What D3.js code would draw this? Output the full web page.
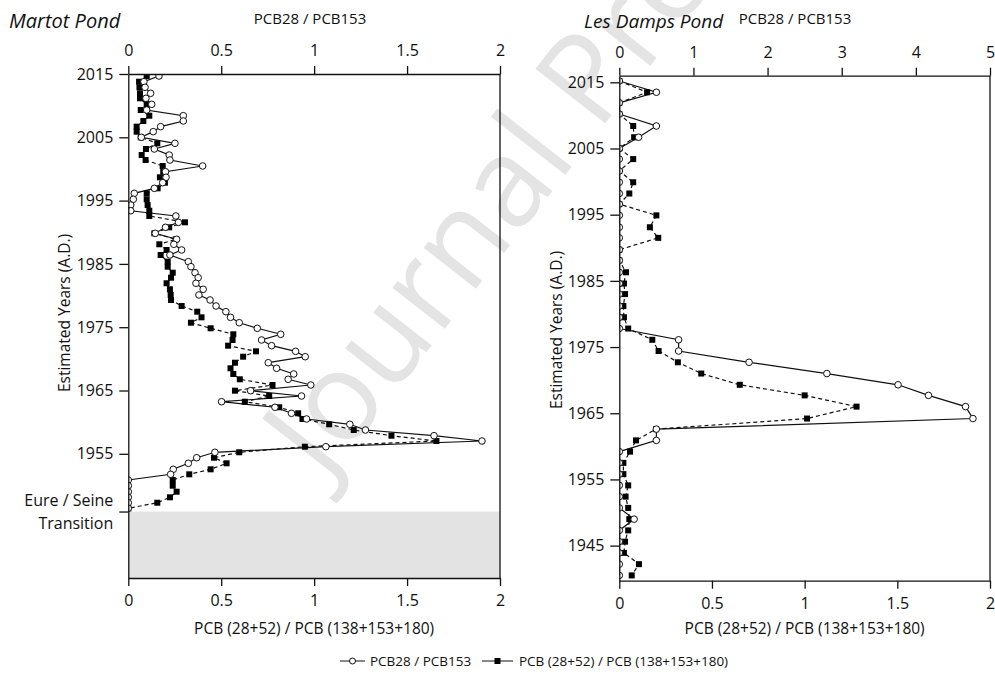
<!DOCTYPE html>
<html>
<head>
<meta charset="utf-8">
<script src="https://cdn.jsdelivr.net/npm/d3@7"></script>
<style>
  html, body { margin: 0; padding: 0; background: #fff; }
  svg { display: block; font-family: "Open Sans", "Noto Sans", sans-serif; }
  .axis text { font-size: 16px; fill: #111; font-family: "Open Sans", sans-serif; }
  .axis path, .axis line { stroke: #111; stroke-width: 1.3px; }
</style>
</head>
<body>
<svg id="chart" width="995" height="679"></svg>
<script>
// ---------------- DATA ----------------
// Martot Pond (both ratios on 0–2 scales)
const martotYears = [2014.68, 2013.78, 2012.90, 2011.95, 2011.16, 2010.21, 2009.31, 2008.41, 2007.58, 2006.68,
  2005.89, 2005.00, 2004.05, 2003.15, 2002.20, 2001.41, 2000.47, 1999.57, 1998.68, 1997.83,
  1996.94, 1996.15, 1995.21, 1994.30, 1993.40, 1992.57, 1991.57, 1990.78, 1989.83, 1988.89,
  1988.10, 1987.20, 1986.41, 1985.35, 1984.56, 1983.61, 1982.82, 1981.94, 1980.99, 1980.09,
  1979.30, 1978.35, 1977.45, 1976.56, 1975.71, 1974.83, 1973.88, 1972.98, 1972.08, 1971.19,
  1970.34, 1969.39, 1968.51, 1967.61, 1966.77, 1965.87, 1964.97, 1964.13, 1963.23, 1962.35,
  1961.40, 1960.50, 1959.66, 1958.76, 1957.86, 1957.02, 1956.12, 1955.24, 1954.38, 1953.50,
  1952.55, 1951.76, 1950.86, 1949.96, 1949.01, 1948.13, 1947.27, 1946.39];
const martotPCB28_153 = [0.165, 0.084, 0.09, 0.12, 0.095, 0.126, 0.099, 0.296, 0.296, 0.174,
  0.134, 0.07, 0.251, 0.14, 0.22, 0.224, 0.40, 0.2, 0.203, 0.185,
  0.14, 0.032, 0.027, 0.013, 0.013, 0.256, 0.27, 0.2, 0.145, 0.26,
  0.245, 0.287, 0.224, 0.323, 0.337, 0.359, 0.376, 0.364, 0.403, 0.38,
  0.44, 0.472, 0.525, 0.55, 0.597, 0.694, 0.82, 0.717, 0.771, 0.9,
  0.952, 0.753, 0.798, 0.89, 0.86, 0.982, 0.658, 0.932, 0.502, 0.789,
  0.878, 0.959, 1.192, 1.276, 1.645, 1.903, 1.063, 0.466, 0.368, 0.323,
  0.242, 0.228, 0, 0, 0, 0, 0, 0];
const martotPCBsum = [0.099, 0.058, 0.06, 0.063, 0.063, 0.099, 0.067, 0.113, 0.081, 0.045,
  0.045, 0.067, 0.156, 0.095, 0.072, 0.093, 0.185, 0.188, 0.17, 0.197,
  0.158, 0.099, 0.099, 0.104, 0.113, 0.113, 0.305, 0.22, 0.14, 0.256,
  0.167, 0.206, 0.174, 0.212, 0.212, 0.239, 0.23, 0.206, 0.224, 0.228,
  0.23, 0.287, 0.371, 0.394, 0.337, 0.443, 0.565, 0.561, 0.537, 0.687,
  0.618, 0.574, 0.55, 0.565, 0.60, 0.776, 0.574, 0.758, 0.627, 0.812,
  0.914, 0.937, 1.081, 1.213, 1.416, 1.658, 0.95, 0.597, 0.461, 0.529,
  0.443, 0.328, 0.239, 0.239, 0.26, 0.224, 0.156, 0];

// Les Damps Pond (PCB28/PCB153 on 0–5 top scale, sum ratio on 0–2 bottom scale)
const dampsYears = [2015.2, 2013.5, 2011.9, 2010.2, 2008.4, 2006.7, 2005.0, 2003.4, 2001.6, 1999.9,
  1998.2, 1996.6, 1994.9, 1993.1, 1991.5, 1989.7, 1988.1, 1986.3, 1984.6, 1983.0,
  1981.2, 1979.5, 1977.8, 1976.1, 1974.4, 1972.7, 1971.0, 1969.3, 1967.7, 1966.0,
  1964.2, 1962.6, 1960.9, 1959.2, 1957.5, 1955.8, 1954.1, 1952.4, 1950.7, 1949.0,
  1947.3, 1945.6, 1943.9, 1942.2, 1940.5];
const dampsPCB28_153 = [0, 0.5, 0, 0, 0.5, 0.26, 0, 0, 0, 0,
  0, 0, 0, 0, 0, 0, 0, 0, 0, 0,
  0, 0, 0, 0.8, 0.8, 1.75, 2.8, 3.76, 4.17, 4.67,
  4.77, 0.5, 0.5, 0, 0, 0, 0, 0, 0, 0.2,
  0, 0, 0, 0, 0];
const dampsPCBsum = [0, 0.15, 0, 0, 0.075, 0.08, 0, 0.075, 0, 0.075,
  0.054, 0, 0.2, 0.165, 0.21, 0, 0, 0.036, 0.025, 0.031,
  0.022, 0.025, 0.048, 0.178, 0.212, 0.316, 0.442, 0.65, 1.0, 1.28,
  1.013, 0.198, 0.09, 0.058, 0.022, 0.022, 0.048, 0.034, 0.048, 0.054,
  0.048, 0.031, 0.025, 0.106, 0.067];

const bottomTicks = [0, 0.5, 1, 1.5, 2];
const martotTopTicks = [0, 0.5, 1, 1.5, 2];
const dampsTopTicks = [0, 1, 2, 3, 4, 5];
const martotYearTicks = [2015, 2005, 1995, 1985, 1975, 1965, 1955];
const dampsYearTicks = [2015, 2005, 1995, 1985, 1975, 1965, 1955, 1945];
const transitionYear = 1945.88;

const labels = {
  martot: "Martot Pond",
  damps: "Les Damps Pond",
  top: "PCB28 / PCB153",
  bottom: "PCB (28+52) / PCB (138+153+180)",
  yTitle: "Estimated Years (A.D.)",
  transition: ["Eure / Seine", "Transition"],
  watermark: "Journal Pre-proof"
};

// ---------------- DRAW ----------------
const svg = d3.select("#chart");
const ink = "#111";
const fmt = d => String(d);

// watermark
svg.append("text")
  .attr("transform", "translate(325,482) rotate(-52)")
  .attr("font-family", "'Open Sans', sans-serif")
  .attr("font-size", 124)
  .attr("fill", "#e4e4e4")
  .text(labels.watermark);

function panel(cfg) {
  const g = svg.append("g").attr("transform", `translate(${cfg.x},${cfg.y})`);
  const w = cfg.w, h = cfg.h;
  const y = d3.scaleLinear().domain(cfg.yDomain).range([h, 0]);
  const xb = d3.scaleLinear().domain([0, 2]).range([0, w]);
  const xt = d3.scaleLinear().domain([0, cfg.topMax]).range([0, w]);

  const clipId = "clip-" + cfg.id;
  g.append("clipPath").attr("id", clipId)
    .append("rect").attr("x", 0).attr("y", 0).attr("width", w).attr("height", h);

  if (cfg.transition) {
    g.append("rect").attr("x", 0).attr("y", y(cfg.transition))
      .attr("width", w).attr("height", h - y(cfg.transition))
      .attr("fill", "#e3e3e3");
  }

  const data = cfg.years.map((yr, i) => ({ yr, a: cfg.a[i], b: cfg.b[i] }));
  const plot = g.append("g").attr("clip-path", `url(#${clipId})`);

  plot.append("path").datum(data)
    .attr("fill", "none").attr("stroke", ink).attr("stroke-width", 1.2)
    .attr("stroke-dasharray", "4,3")
    .attr("d", d3.line().x(d => xb(d.b)).y(d => y(d.yr)));
  plot.append("path").datum(data)
    .attr("fill", "none").attr("stroke", ink).attr("stroke-width", 1.2)
    .attr("d", d3.line().x(d => xt(d.a)).y(d => y(d.yr)));

  const s = 6;
  plot.selectAll("rect.sq").data(data).join("rect").attr("class", "sq")
    .attr("x", d => xb(d.b) - s / 2).attr("y", d => y(d.yr) - s / 2)
    .attr("width", s).attr("height", s).attr("fill", "#000");
  plot.selectAll("circle.ci").data(data).join("circle").attr("class", "ci")
    .attr("cx", d => xt(d.a)).attr("cy", d => y(d.yr)).attr("r", 3.3)
    .attr("fill", "#fff").attr("stroke", ink).attr("stroke-width", 1);

  // axes
  g.append("g").attr("class", "axis")
    .call(d3.axisTop(xt).tickValues(cfg.topTicks).tickSize(8).tickPadding(10).tickSizeOuter(0).tickFormat(fmt));
  g.append("g").attr("class", "axis").attr("transform", `translate(0,${h})`)
    .call(d3.axisBottom(xb).tickValues(bottomTicks).tickSize(8).tickPadding(9).tickSizeOuter(0).tickFormat(fmt));
  const yTicks = cfg.transition ? cfg.yTicks.concat([cfg.transition]) : cfg.yTicks;
  g.append("g").attr("class", "axis")
    .call(d3.axisLeft(y).tickValues(yTicks).tickSize(9).tickPadding(6).tickSizeOuter(0)
      .tickFormat(d => d === cfg.transition ? "" : fmt(d)));
  g.append("line").attr("x1", w).attr("x2", w).attr("y1", 0).attr("y2", h)
    .attr("stroke", ink).attr("stroke-width", 1.3);

  if (cfg.transition) {
    const ty = y(cfg.transition);
    const t = g.append("text").attr("text-anchor", "end").attr("font-size", 16).attr("fill", ink);
    t.append("tspan").attr("x", -15).attr("y", ty - 6).text(labels.transition[0]);
    t.append("tspan").attr("x", -15).attr("y", ty + 17).text(labels.transition[1]);
  }

  // titles
  svg.append("text").attr("x", cfg.titleX).attr("y", 28)
    .attr("font-size", cfg.titleSize).attr("font-style", "italic").attr("fill", ink).text(cfg.title);
  svg.append("text").attr("x", cfg.topLabelX).attr("y", 24).attr("text-anchor", "middle")
    .attr("font-size", 15).attr("fill", ink).text(labels.top);
  svg.append("text").attr("x", cfg.x + w / 2).attr("y", 634).attr("text-anchor", "middle")
    .attr("font-size", 15.5).attr("fill", ink).text(labels.bottom);
  svg.append("text")
    .attr("transform", `translate(${cfg.yTitleX},${cfg.yTitleY}) rotate(-90)`)
    .attr("text-anchor", "middle").attr("font-size", 15.5).attr("fill", ink).text(labels.yTitle);
}

panel({
  id: "martot", x: 128.3, y: 74, w: 371.7, h: 504,
  yDomain: [1935.38, 2015], topMax: 2, topTicks: martotTopTicks, yTicks: martotYearTicks,
  years: martotYears, a: martotPCB28_153, b: martotPCBsum, transition: transitionYear,
  title: labels.martot, titleSize: 20, titleX: 9, topLabelX: 310, yTitleX: 70, yTitleY: 313
});
panel({
  id: "damps", x: 619.3, y: 75.7, w: 370.7, h: 505,
  yDomain: [1939.7, 2016.0], topMax: 5, topTicks: dampsTopTicks, yTicks: dampsYearTicks,
  years: dampsYears, a: dampsPCB28_153, b: dampsPCBsum, transition: null,
  title: labels.damps, titleSize: 19, titleX: 584, topLabelX: 795, yTitleX: 562, yTitleY: 330
});

// legend
const lg = svg.append("g").attr("transform", "translate(0,661)");
lg.append("line").attr("x1", 340).attr("x2", 365).attr("y1", 0).attr("y2", 0).attr("stroke", ink);
lg.append("circle").attr("cx", 352.5).attr("cy", 0).attr("r", 3).attr("fill", "#fff").attr("stroke", ink);
lg.append("text").attr("x", 370).attr("y", 4.5).attr("font-size", 13.5).attr("fill", ink).text(labels.top);
lg.append("line").attr("x1", 482).attr("x2", 513).attr("y1", 0).attr("y2", 0).attr("stroke", ink);
lg.append("rect").attr("x", 494.5).attr("y", -3).attr("width", 6).attr("height", 6).attr("fill", "#000");
lg.append("text").attr("x", 519).attr("y", 4.5).attr("font-size", 13.5).attr("fill", ink).text(labels.bottom);
</script>
</body>
</html>
